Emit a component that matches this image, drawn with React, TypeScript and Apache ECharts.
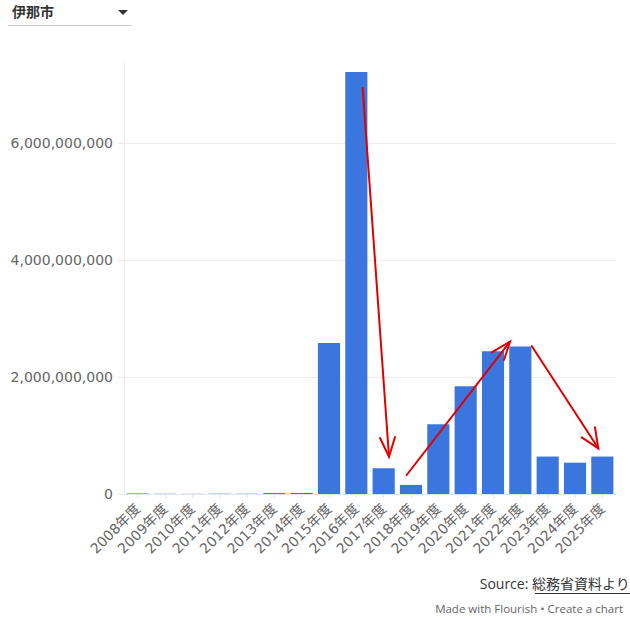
import React, { useEffect, useRef } from "react";
import * as echarts from "echarts";

const categories = [
  "2008年度", "2009年度", "2010年度", "2011年度", "2012年度", "2013年度",
  "2014年度", "2015年度", "2016年度", "2017年度", "2018年度", "2019年度",
  "2020年度", "2021年度", "2022年度", "2023年度", "2024年度", "2025年度",
];
const values = [
  8000000, 4000000, 3000000, 5000000, 6000000, 16000000,
  18000000, 2580000000, 7210000000, 440000000, 155000000, 1190000000,
  1840000000, 2440000000, 2520000000, 640000000, 535000000, 640000000,
];
const yTicks = [0, 2000000000, 4000000000, 6000000000];
const regionName = "伊那市";
const sourceLabel = "Source: ";
const sourceLink = "総務省資料より";
const footer = "Made with Flourish • Create a chart";

// hand-drawn red annotation arrows (pixel positions of the overlay)
const arrows = [
  { from: [362.7, 88], to: [389, 456.7], w1: [380, 438], w2: [395, 437] },
  { from: [406.7, 475], to: [510, 341.7], w1: [491.7, 352.3], w2: [504, 360] },
  { from: [531.7, 346], to: [598.3, 448.3], w1: [581.7, 437.3], w2: [595, 427.3] },
];

const FONT = "'Open Sans', 'Noto Sans CJK JP', sans-serif";
const AXFONT = "'DejaVu Sans', 'Noto Sans CJK JP', sans-serif";

export default function App() {
  const ref = useRef<HTMLDivElement>(null);
  useEffect(() => {
    if (!ref.current) return;
    const chart = echarts.init(ref.current, null, { renderer: "svg" });
    const arrowGraphics: any[] = [];
    arrows.forEach((a) => {
      const lineStyle = { stroke: "#e00000", lineWidth: 2, lineCap: "round" };
      arrowGraphics.push({
        type: "line",
        shape: { x1: a.from[0], y1: a.from[1], x2: a.to[0], y2: a.to[1] },
        style: lineStyle,
        z: 100,
      });
      arrowGraphics.push({
        type: "polyline",
        shape: { points: [a.w1, a.to, a.w2] },
        style: { ...lineStyle, fill: null },
        z: 100,
      });
    });
    chart.setOption({
      animation: false,
      textStyle: { fontFamily: FONT },
      grid: { left: 124, right: 14, top: 61, bottom: 125, containLabel: false },
      xAxis: {
        type: "category",
        data: categories,
        axisLine: { show: true, lineStyle: { color: "#dfe6f2", width: 1 } },
        axisTick: { show: true, alignWithLabel: true, length: 4, lineStyle: { color: "#e6e6e6" } },
        axisLabel: {
          rotate: 45,
          interval: 0,
          color: "#666",
          fontSize: 14,
          fontFamily: AXFONT,
          margin: 12,
        },
      },
      yAxis: {
        type: "value",
        min: 0,
        max: 7400000000,
        interval: 2000000000,
        axisLine: { show: true, lineStyle: { color: "#eeeeee" } },
        axisTick: { show: true, length: 6, lineStyle: { color: "#e6e6e6" } },
        splitLine: { show: false },
        axisLabel: {
          color: "#666",
          fontSize: 14,
          fontFamily: AXFONT,
          margin: 11,
          showMaxLabel: false,
          formatter: (v: number) =>
            yTicks.includes(v) ? v.toLocaleString("en-US") : "",
        },
      },
      series: [
        {
          type: "bar",
          data: values,
          barCategoryGap: "19%",
          itemStyle: { color: "#3b76df" },
          markLine: {
            silent: true,
            symbol: "none",
            label: { show: false },
            lineStyle: { color: "#eeeeee", type: "solid", width: 1 },
            data: yTicks.filter((v) => v > 0).map((v) => ({ yAxis: v })),
            z: 0,
          },
        },
      ],
      graphic: [
        {
          type: "text",
          left: 12,
          top: 4,
          style: { text: regionName, fontSize: 14, fontWeight: "bold", fill: "#333", fontFamily: FONT },
        },
        {
          type: "polygon",
          shape: { points: [[118, 10], [128, 10], [123, 15]] },
          style: { fill: "#333" },
        },
        {
          type: "line",
          shape: { x1: 8, y1: 25.5, x2: 132, y2: 25.5 },
          style: { stroke: "#c8c8c8", lineWidth: 1 },
        },
        {
          type: "text",
          right: 0,
          top: 576,
          style: {
            rich: {
              a: { fontSize: 14, fill: "#333", fontFamily: FONT },
              b: { fontSize: 14, fill: "#333", fontFamily: FONT },
            },
            text: `{a|${sourceLabel}}{b|${sourceLink}}`,
          },
        },
        {
          type: "line",
          shape: { x1: 535, y1: 593.5, x2: 630, y2: 593.5 },
          style: { stroke: "#333", lineWidth: 1 },
        },
        {
          type: "text",
          right: 7,
          top: 603,
          style: { text: footer, fontSize: 11.5, fill: "#666", fontFamily: FONT },
        },
        ...arrowGraphics,
      ],
    });
    return () => chart.dispose();
  }, []);
  return <div ref={ref} style={{ width: 630, height: 619, position: "absolute", left: 0, top: 0 }} />;
}
